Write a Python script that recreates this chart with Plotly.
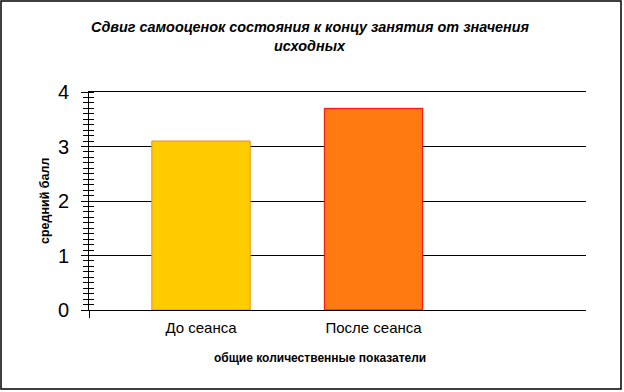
import plotly.graph_objects as go

categories = ["До сеанса", "После сеанса"]
values = [3.1, 3.7]
y_ticks = [0, 1, 2, 3, 4]

title_line1 = "Сдвиг самооценок состояния к концу занятия от значения"
title_line2 = "исходных"
y_title = "средний балл"
x_title = "общие количественные показатели"

W, H = 624, 392
L, R, T, B = 89, 38, 92, 82
PW, PH = W - L - R, H - T - B
x_range = [-0.6493, 2.2319]
font_family = "Liberation Sans, Arial, sans-serif"


def px_x(px):
    return (px - L) / PW


def px_y(py):
    return (H - B - py) / PH


title_font = dict(size=14.4, weight="bold", style="italic", color="black")

fig = go.Figure()
fig.add_trace(go.Bar(
    x=categories, y=values, width=0.57,
    marker=dict(color=["#FFCC00", "#FF7A10"],
                line=dict(color=["#F58A10", "#FF0000"], width=1)),
    showlegend=False, hoverinfo="skip",
))
fig.add_trace(go.Scatter(
    x=list(range(len(categories))), y=values, xaxis="x2", yaxis="y2",
    mode="markers", marker=dict(opacity=0), showlegend=False, hoverinfo="skip",
))

fig.update_layout(
    width=W, height=H,
    margin=dict(l=L, r=R, t=T, b=B),
    paper_bgcolor="white", plot_bgcolor="white",
    font=dict(family=font_family, color="black"),
    title=dict(text=title_line1, x=310 / W, xref="container", xanchor="center",
               y=1 - 26.5 / H, yref="container", yanchor="middle",
               font=title_font),
    xaxis=dict(type="category", range=x_range, showgrid=False, zeroline=False,
               showline=False, ticks="", tickfont=dict(size=15),
               ticklabelstandoff=7),
    xaxis2=dict(overlaying="x", anchor="y", type="linear", range=x_range,
                tickvals=[x_range[0] + 0.001], ticks="outside", ticklen=7,
                tickcolor="black", tickwidth=1, showticklabels=False,
                showgrid=False, zeroline=False, showline=True, mirror=True,
                linecolor="black", linewidth=1),
    yaxis=dict(range=[0, 4], tickvals=y_ticks, showgrid=True, gridcolor="black",
               gridwidth=1, zeroline=True, zerolinecolor="black", zerolinewidth=1,
               showline=True, linecolor="black", linewidth=1,
               ticks="outside", ticklen=7, tickcolor="black",
               tickfont=dict(size=20), ticklabelstandoff=8,
               minor=dict(dtick=0.1, ticks="outside", ticklen=5,
                          tickcolor="black", showgrid=False)),
    yaxis2=dict(overlaying="y", anchor="x", side="left", range=[0, 4],
                tickvals=y_ticks, showticklabels=False, ticks="",
                showgrid=False, zeroline=False, showline=False,
                minor=dict(dtick=0.1, ticks="inside", ticklen=5,
                           tickcolor="black", showgrid=False)),
    annotations=[
        dict(text=title_line2, xref="paper", yref="paper",
             x=px_x(310), y=px_y(46), showarrow=False,
             xanchor="center", yanchor="middle", font=title_font),
        dict(text=y_title, xref="paper", yref="paper",
             x=px_x(45), y=0.5, textangle=-90,
             showarrow=False, xanchor="center", yanchor="middle",
             font=dict(size=12.5, weight="bold")),
        dict(text=x_title, xref="paper", yref="paper",
             x=px_x(320), y=px_y(358),
             showarrow=False, xanchor="center", yanchor="middle",
             font=dict(size=12, weight="bold")),
    ],
    shapes=[dict(type="rect", xref="paper", yref="paper",
                 x0=px_x(1), x1=px_x(621), y0=px_y(389), y1=px_y(1),
                 line=dict(color="black", width=1.5), layer="below")],
)

fig.write_html("out.html", config={"displayModeBar": False},
               post_script="document.body.style.margin='0';document.body.style.overflow='hidden';")
